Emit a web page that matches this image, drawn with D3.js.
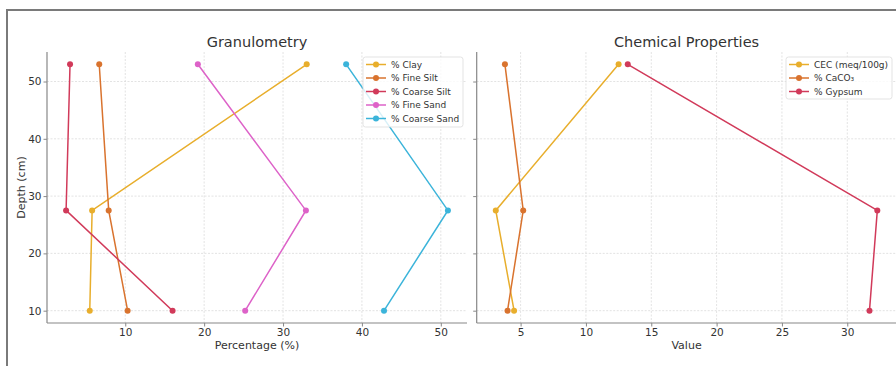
<!DOCTYPE html>
<html>
<head>
<meta charset="utf-8">
<script src="https://cdn.jsdelivr.net/npm/d3@7/dist/d3.min.js"></script>
<style>
  html, body { margin: 0; padding: 0; background: #fff; }
  svg { display: block; font-family: "DejaVu Sans", sans-serif; }
</style>
</head>
<body>
<svg id="chart" width="896" height="366"></svg>
<script>
// ---- Data ----
const depths = [53, 27.5, 10];

const granSeries = ["% Clay", "% Fine Silt", "% Coarse Silt", "% Fine Sand", "% Coarse Sand"];
const clay = [33.0, 5.8, 5.5];
const fineSilt = [6.7, 7.9, 10.3];
const coarseSilt = [3.0, 2.5, 16.0];
const fineSand = [19.2, 32.9, 25.2];
const coarseSand = [38.0, 50.9, 42.8];
const granValues = [clay, fineSilt, coarseSilt, fineSand, coarseSand];

const chemSeries = ["CEC (meq/100g)", "% CaCO\u2083", "% Gypsum"];
const cec = [12.5, 3.1, 4.5];
const caco3 = [3.8, 5.2, 4.0];
const gypsum = [13.2, 32.3, 31.7];
const chemValues = [cec, caco3, gypsum];

const granTicksX = [10, 20, 30, 40, 50];
const chemTicksX = [5, 10, 15, 20, 25, 30];
const depthTicks = [10, 20, 30, 40, 50];

const granColors = ["#e8ae2c", "#d9732e", "#d13a5a", "#dd62c8", "#3bb4da"];
const chemColors = ["#e8ae2c", "#d9732e", "#d13a5a"];

// ---- Drawing ----
const svg = d3.select("#chart");

// frame border (screenshot edge)
svg.append("line").attr("x1", 6).attr("x2", 896).attr("y1", 10).attr("y2", 10)
  .attr("stroke", "#7a7a7a").attr("stroke-width", 2);
svg.append("line").attr("x1", 7).attr("x2", 7).attr("y1", 9).attr("y2", 366)
  .attr("stroke", "#7a7a7a").attr("stroke-width", 2);

const plotTop = 52, plotBottom = 323;

function padDomain(vals) {
  const ext = d3.extent(vals);
  const m = (ext[1] - ext[0]) * 0.05;
  return [ext[0] - m, ext[1] + m];
}

const y = d3.scaleLinear().domain(padDomain(depths)).range([plotBottom, plotTop]);

function panel(opts) {
  const { left, right, series, values, colors, ticksX, title, xlabel, showY, legend } = opts;
  const allVals = values.flat();
  const x = d3.scaleLinear().domain(padDomain(allVals)).range([left, right]);
  const g = svg.append("g");

  // grid
  g.append("g").selectAll("line").data(ticksX).join("line")
    .attr("x1", d => x(d)).attr("x2", d => x(d)).attr("y1", plotTop).attr("y2", plotBottom)
    .attr("stroke", "#dcdcdc").attr("stroke-width", 0.8).attr("stroke-dasharray", "2,1.5");
  g.append("g").selectAll("line").data(depthTicks).join("line")
    .attr("x1", left).attr("x2", right).attr("y1", d => y(d)).attr("y2", d => y(d))
    .attr("stroke", "#dcdcdc").attr("stroke-width", 0.8).attr("stroke-dasharray", "2,1.5");

  // axes
  const xAxis = d3.axisBottom(x).tickValues(ticksX).tickSize(3.5).tickPadding(2).tickFormat(d3.format("d"));
  const xg = g.append("g").attr("transform", `translate(0,${plotBottom})`).call(xAxis);
  const yAxis = d3.axisLeft(y).tickValues(depthTicks).tickSize(3.5).tickPadding(2)
    .tickFormat(showY ? d3.format("d") : "");
  const yg = g.append("g").attr("transform", `translate(${left},0)`).call(yAxis);
  [xg, yg].forEach(a => {
    a.select(".domain").attr("stroke", "#888").attr("stroke-width", 1.2);
    a.selectAll(".tick line").attr("stroke", "#888");
    a.selectAll(".tick text").attr("fill", "#333").attr("font-size", 10.5)
      .attr("font-family", "DejaVu Sans, sans-serif");
  });
  xg.select(".domain").attr("d", `M${left},0H${right}`);
  yg.select(".domain").attr("d", `M0,${plotBottom}V${plotTop}`);

  // lines
  const line = d3.line().x(d => x(d[0])).y(d => y(d[1]));
  series.forEach((s, i) => {
    const pts = values[i].map((v, j) => [v, depths[j]]);
    g.append("path").datum(pts).attr("d", line).attr("fill", "none")
      .attr("stroke", colors[i]).attr("stroke-width", 1.5);
    g.append("g").selectAll("circle").data(pts).join("circle")
      .attr("cx", d => x(d[0])).attr("cy", d => y(d[1])).attr("r", 3)
      .attr("fill", colors[i]);
  });

  // title
  g.append("text").attr("x", (left + right) / 2).attr("y", 47).attr("text-anchor", "middle")
    .attr("font-size", 14.5).attr("fill", "#333").text(title);
  // x label
  g.append("text").attr("x", (left + right) / 2).attr("y", 349).attr("text-anchor", "middle")
    .attr("font-size", 11).attr("fill", "#333").text(xlabel);

  // legend
  const lg = g.append("g");
  lg.append("rect").attr("x", legend.x).attr("y", legend.y).attr("width", legend.w)
    .attr("height", legend.h).attr("rx", 2.5).attr("fill", "#fff").attr("fill-opacity", 0.8)
    .attr("stroke", "#dcdcdc").attr("stroke-width", 0.8);
  series.forEach((s, i) => {
    const cy = legend.y + 7.5 + i * 13.5;
    lg.append("line").attr("x1", legend.x + 3).attr("x2", legend.x + 23)
      .attr("y1", cy).attr("y2", cy).attr("stroke", colors[i]).attr("stroke-width", 1.5);
    lg.append("circle").attr("cx", legend.x + 13).attr("cy", cy).attr("r", 3).attr("fill", colors[i]);
    lg.append("text").attr("x", legend.x + 28).attr("y", cy + 3.3).attr("font-size", 9)
      .attr("fill", "#333").text(s);
  });
}

panel({
  left: 47, right: 467, series: granSeries, values: granValues, colors: granColors,
  ticksX: granTicksX, title: "Granulometry", xlabel: "Percentage (%)", showY: true,
  legend: { x: 363, y: 57, w: 100, h: 70 }
});
panel({
  left: 476.7, right: 896.4, series: chemSeries, values: chemValues, colors: chemColors,
  ticksX: chemTicksX, title: "Chemical Properties", xlabel: "Value", showY: false,
  legend: { x: 786, y: 57, w: 106, h: 42 }
});

// y label
svg.append("text").attr("transform", `translate(25,${(plotTop + plotBottom) / 2}) rotate(-90)`)
  .attr("text-anchor", "middle").attr("font-size", 11).attr("fill", "#333").text("Depth (cm)");
</script>
</body>
</html>
